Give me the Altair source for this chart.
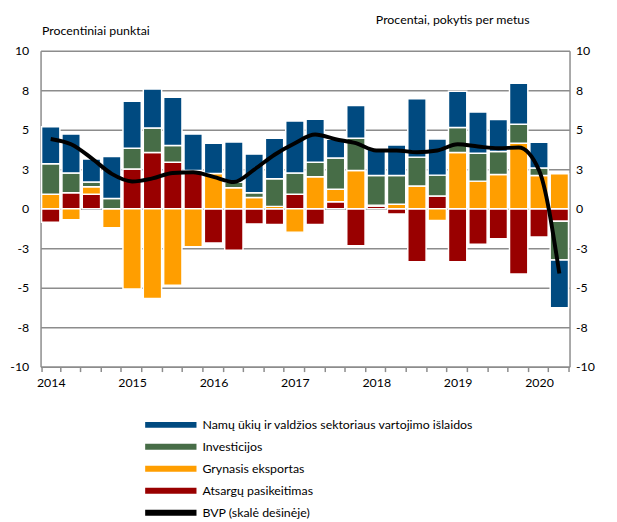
import altair as alt
import pandas as pd

# Quarters 2014Q1 .. 2020Q2
quarters = ["2014Q1", "2014Q2", "2014Q3", "2014Q4",
            "2015Q1", "2015Q2", "2015Q3", "2015Q4",
            "2016Q1", "2016Q2", "2016Q3", "2016Q4",
            "2017Q1", "2017Q2", "2017Q3", "2017Q4",
            "2018Q1", "2018Q2", "2018Q3", "2018Q4",
            "2019Q1", "2019Q2", "2019Q3", "2019Q4",
            "2020Q1", "2020Q2"]

series_names = ["Namų ūkių ir valdžios sektoriaus vartojimo išlaidos",
                "Investicijos",
                "Grynasis eksportas",
                "Atsargų pasikeitimas",
                "BVP (skalė dešinėje)"]
series_colors = ["#004a80", "#476d47", "#ff9e00", "#990000", "#000000"]

consumption = [2.34, 2.46, 1.46, 2.66, 2.98, 2.46, 3.06, 2.31, 1.92, 2.54, 2.44, 2.56, 3.29,
               2.73, 1.19, 2.08, 1.71, 1.94, 3.69, 2.29, 2.29, 2.61, 2.02, 2.59, 1.63, -3.02]
investment = [1.93, 1.25, 0.29, 0.65, 1.31, 1.56, 1.06, 0.0, 0.0, 0.36, 0.31, 1.75, 1.35,
              0.92, 1.98, 2.04, 1.87, 1.81, 1.83, 1.32, 1.59, 1.77, 1.46, 1.20, 0.48, -2.46]
net_exports = [0.92, -0.70, 0.48, -1.20, -5.08, -5.69, -4.85, -2.40, 2.23, 1.33, 0.71, 0.15, -1.48,
               2.02, 0.79, 2.42, 0.06, 0.29, 1.44, -0.75, 3.56, 1.75, 2.17, 4.15, 2.10, 2.21]
inventories = [-0.85, 1.02, 0.92, 0.0, 2.52, 3.56, 2.94, 2.42, -2.17, -2.63, -0.96, -1.00, 0.92,
               -1.00, 0.44, -2.35, 0.17, -0.33, -3.35, 0.81, -3.35, -2.25, -1.90, -4.13, -1.79, -0.79]
gdp = [4.42, 4.08, 3.21, 2.21, 1.73, 1.92, 2.27, 2.31, 2.02, 1.69, 2.48, 3.42, 4.15,
       4.70, 4.40, 4.15, 3.69, 3.69, 3.58, 3.69, 4.08, 3.94, 3.83, 3.88, 2.44, -4.10]

y_ticks = [-10, -7.5, -5, -2.5, 0, 2.5, 5, 7.5, 10]

FONT = "Lato"
FS = 12.5
GRID = "#8c8c8c"

# stacking order from zero outward: inventories, net exports, investment, consumption
rows = []
for order, (name, vals) in enumerate([(series_names[3], inventories),
                                      (series_names[2], net_exports),
                                      (series_names[1], investment),
                                      (series_names[0], consumption)]):
    for q, v in zip(quarters, vals):
        if v != 0:
            rows.append({"q": q, "series": name, "value": v, "ord": order})
bars_df = pd.DataFrame(rows)
gdp_df = pd.DataFrame({"q": quarters, "gdp": gdp, "series": series_names[4]})
legend_df = pd.DataFrame({"series": series_names})

x_enc = alt.X(
    "q:N", sort=quarters,
    scale=alt.Scale(paddingInner=0.1, paddingOuter=0.05),
    axis=alt.Axis(title=None, labelAngle=0, tickBand="extent",
                  labelExpr="substring(datum.label, 4, 6) == 'Q1' ? substring(datum.label, 0, 4) : ''",
                  domainColor=GRID, domainWidth=1.5, tickColor=GRID, tickWidth=1.5, tickSize=5,
                  labelPadding=5, labelFont=FONT, labelFontSize=FS, labelColor="black", grid=False),
)

label_expr = "(datum.value < 0 ? '-' : '') + format(abs(datum.value), '.0f')"
y_scale = alt.Scale(domain=[-10, 10], nice=False, zero=False)

color_scale = alt.Scale(domain=series_names, range=series_colors)

bars = alt.Chart(bars_df).mark_bar(stroke="white", strokeWidth=1.5).encode(
    x=x_enc,
    y=alt.Y("value:Q", stack="zero", scale=y_scale,
            axis=alt.Axis(values=y_ticks, labelExpr=label_expr, ticks=False,
                          grid=True, gridColor=GRID, gridWidth=1.5,
                          domainColor=GRID, domainWidth=1.5, labelPadding=12,
                          labelFont=FONT, labelFontSize=FS, labelColor="black",
                          title="Procentiniai punktai", titleAngle=0, titleAlign="left",
                          titleBaseline="middle", titleX=1, titleY=-21,
                          titleFont=FONT, titleFontSize=FS, titleFontWeight="normal",
                          titleColor="black")),
    color=alt.Color("series:N", scale=color_scale, legend=None),
    order=alt.Order("ord:Q", sort="ascending"),
)

line = alt.Chart(gdp_df).mark_line(color="black", strokeWidth=4, interpolate="monotone").encode(
    x=x_enc,
    y=alt.Y("gdp:Q", scale=y_scale,
            axis=alt.Axis(orient="right", values=y_ticks, labelExpr=label_expr, ticks=False,
                          grid=False, domainColor=GRID, domainWidth=1.5, labelPadding=6,
                          labelFont=FONT, labelFontSize=FS, labelColor="black",
                          title="Procentai, pokytis per metus", titleAngle=0, titleAlign="right",
                          titleBaseline="middle", titleX=-41, titleY=-32,
                          titleFont=FONT, titleFontSize=FS, titleFontWeight="normal",
                          titleColor="black")),
)

leg_scale = alt.Scale(type="point", domain=series_names, range=[379, 468], padding=0)

leg_rule = alt.Chart(legend_df).mark_rule(strokeWidth=6).encode(
    x=alt.value(106), x2=alt.value(158),
    y=alt.Y("series:N", scale=leg_scale, axis=None),
    color=alt.Color("series:N", scale=color_scale, legend=None),
)
leg_text = alt.Chart(legend_df).mark_text(align="left", baseline="middle", font=FONT,
                                          fontSize=FS, color="black").encode(
    x=alt.value(164),
    y=alt.Y("series:N", scale=leg_scale, axis=None),
    text="series:N",
)

chart = alt.layer(bars, line, leg_rule, leg_text).resolve_scale(y="independent").properties(
    width=536, height=320,
    autosize=alt.AutoSizeParams(type="none"),
    padding={"left": 33, "top": 40, "right": 40, "bottom": 154},
).configure_view(stroke=None)

chart.save("out.html", embed_options={"renderer": "svg", "actions": False})
